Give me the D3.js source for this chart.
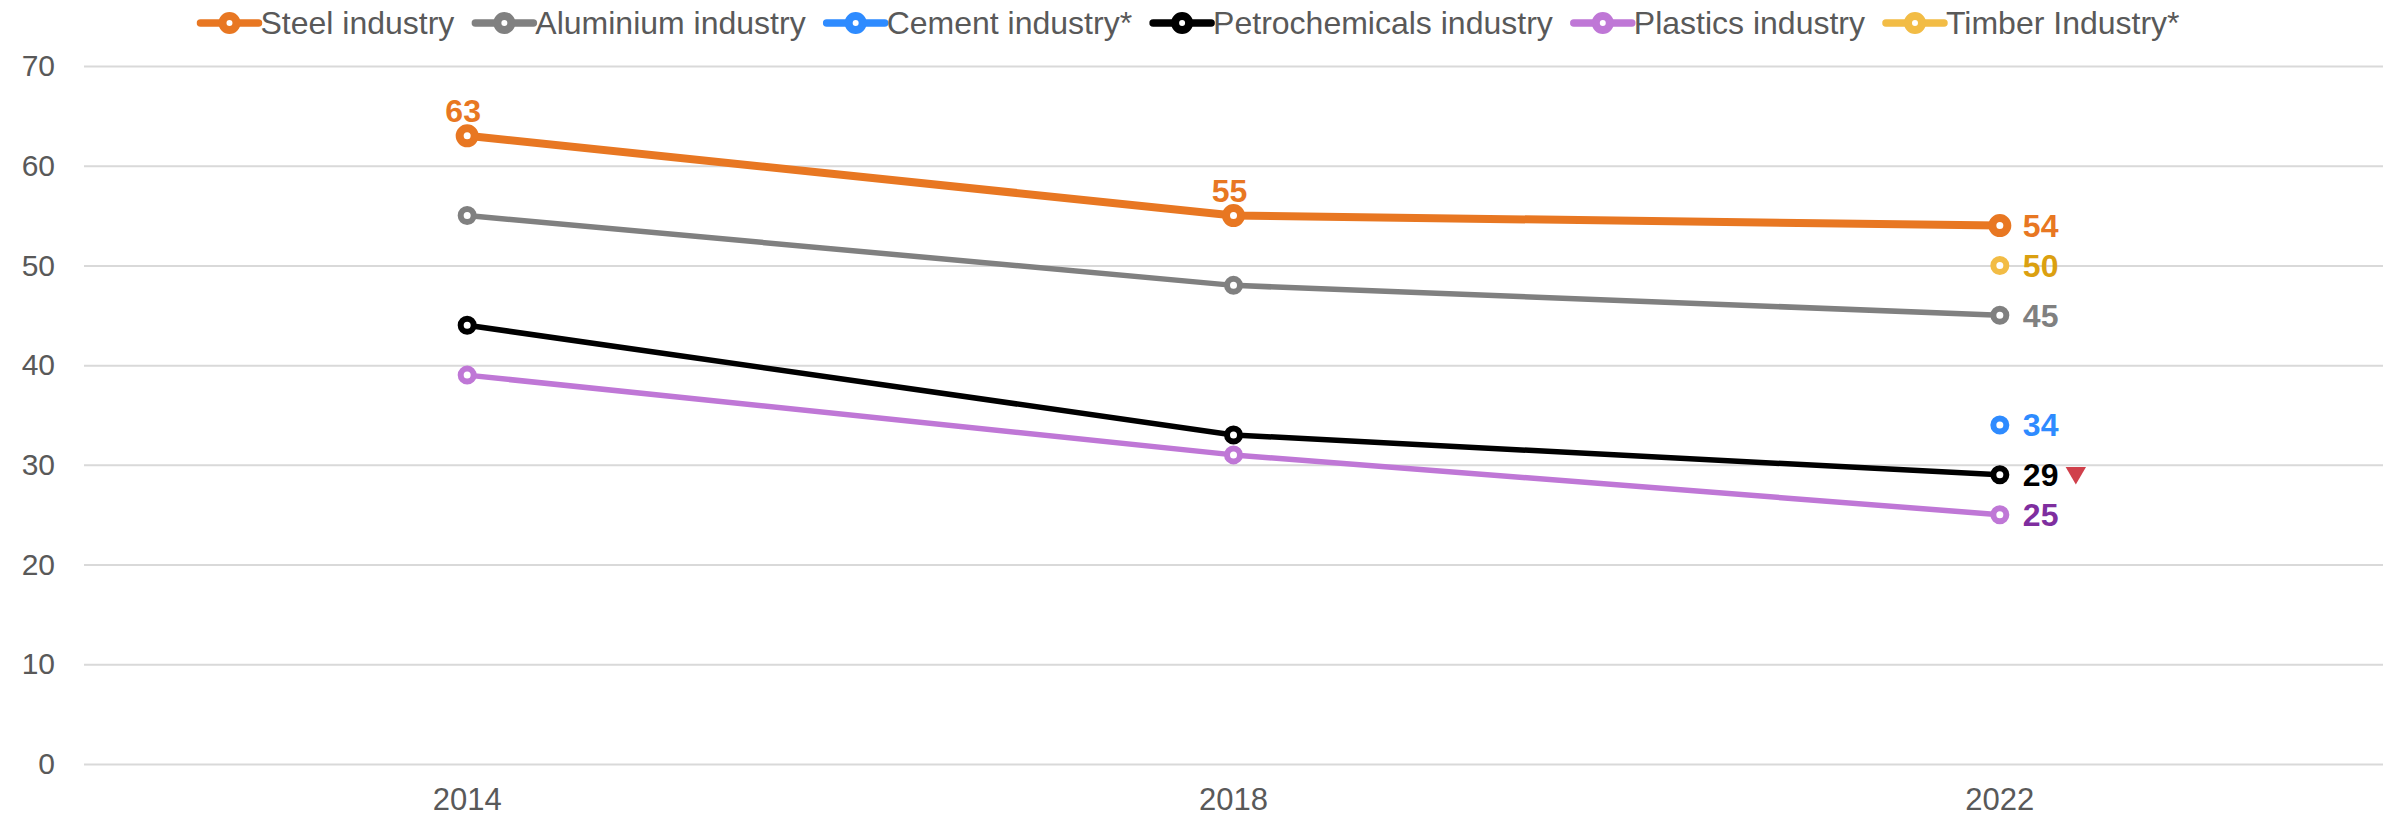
<!DOCTYPE html>
<html>
<head>
<meta charset="utf-8">
<script src="https://cdn.jsdelivr.net/npm/d3@7"></script>
<style>
	body { margin: 0; background: #fff; }
	svg { display: block; font-family: "Liberation Sans", Arial, sans-serif; }
</style>
</head>
<body>
<svg id="chart" width="2392" height="817"></svg>
<script>
// Data
const years = ["2014", "2018", "2022"];
const yTicks = [0, 10, 20, 30, 40, 50, 60, 70];

const seriesNames = ["Steel industry", "Aluminium industry", "Cement industry*", "Petrochemicals industry", "Plastics industry", "Timber Industry*"];
const steel = [63, 55, 54];
const aluminium = [55, 48, 45];
const cement = [null, null, 34];
const petrochemicals = [44, 33, 29];
const plastics = [39, 31, 25];
const timber = [null, null, 50];

const lineColors = ["#E87722", "#808080", "#2E8BFF", "#000000", "#BF77D6", "#F2BC45"];
const labelColors = ["#E87722", "#808080", "#2E8BFF", "#000000", "#7F2E9F", "#DBA010"];

function whenDocumentLoaded(action) {
	if (document.readyState === "loading") {
		document.addEventListener("DOMContentLoaded", action);
	} else {
		action();
	}
}

whenDocumentLoaded(() => {
	const svg = d3.select("#chart");
	const margin = {left: 84, right: 9, top: 66, bottom: 53};
	const width = 2392, height = 817;

	const x = d3.scaleBand()
		.domain(years)
		.range([margin.left, width - margin.right])
		.padding(0);
	const y = d3.scaleLinear()
		.domain([0, 70])
		.range([height - margin.bottom, margin.top]);

	const allSeries = [steel, aluminium, cement, petrochemicals, plastics, timber].map((vals, i) => ({
		name: seriesNames[i],
		color: lineColors[i],
		labelColor: labelColors[i],
		values: vals.map((v, j) => ({year: years[j], value: v}))
	}));

	// gridlines + y labels
	const yAxis = d3.axisLeft(y)
		.tickValues(yTicks)
		.tickSize(-(width - margin.left - margin.right))
		.tickPadding(29);
	const gy = svg.append("g")
		.attr("transform", `translate(${margin.left},0)`)
		.call(yAxis);
	gy.select(".domain").remove();
	gy.selectAll(".tick line").attr("stroke", "#D9D9D9").attr("stroke-width", 2);
	gy.selectAll(".tick text")
		.attr("fill", "#595959")
		.attr("font-size", 30)
		.attr("font-family", "Liberation Sans, Arial, sans-serif");

	// x labels
	const xAxis = d3.axisBottom(x).tickSize(0).tickPadding(24);
	const gx = svg.append("g")
		.attr("transform", `translate(0,${height - margin.bottom})`)
		.call(xAxis);
	gx.select(".domain").remove();
	gx.selectAll(".tick text")
		.attr("fill", "#595959")
		.attr("font-size", 31)
		.attr("font-family", "Liberation Sans, Arial, sans-serif");

	const cx = d => x(d.year) + x.bandwidth() / 2;

	const line = d3.line()
		.defined(d => d.value !== null)
		.x(cx)
		.y(d => y(d.value));

	// lines, drawn back to front so steel sits on top
	const order = [5, 2, 4, 3, 1, 0];
	order.forEach(i => {
		const s = allSeries[i];
		const big = i === 0;
		svg.append("path")
			.datum(s.values)
			.attr("fill", "none")
			.attr("stroke", s.color)
			.attr("stroke-width", big ? 8 : 5.5)
			.attr("stroke-linejoin", "round")
			.attr("d", line);
		svg.append("g").selectAll("circle")
			.data(s.values.filter(d => d.value !== null))
			.join("circle")
			.attr("cx", cx)
			.attr("cy", d => y(d.value))
			.attr("r", big ? 7.5 : 6.5)
			.attr("fill", "#fff")
			.attr("stroke", s.color)
			.attr("stroke-width", big ? 8 : 6);
	});

	// data labels at 2022
	allSeries.forEach(s => {
		const last = s.values[2];
		svg.append("text")
			.attr("x", cx(last) + 23)
			.attr("y", y(last.value))
			.attr("dy", "0.36em")
			.attr("fill", s.labelColor)
			.attr("font-size", 32)
			.attr("font-weight", "bold")
			.text(last.value);
	});

	// steel labels above the first two points
	svg.append("g").selectAll("text")
		.data(allSeries[0].values.slice(0, 2))
		.join("text")
		.attr("x", d => cx(d) - 4)
		.attr("y", d => y(d.value) - 14)
		.attr("text-anchor", "middle")
		.attr("fill", labelColors[0])
		.attr("font-size", 32)
		.attr("font-weight", "bold")
		.text(d => d.value);

	// red down-triangle next to petrochemicals 29
	const pLast = allSeries[3].values[2];
	svg.append("path")
		.attr("d", d3.symbol(d3.symbolTriangle, 180)())
		.attr("transform", `translate(${cx(pLast) + 76},${y(pLast.value) - 2}) rotate(180)`)
		.attr("fill", "#D0404B");

	// legend
	const legend = svg.append("g").attr("class", "legend");
	let lx = 0;
	allSeries.forEach(s => {
		const item = legend.append("g").attr("transform", `translate(${lx},0)`);
		item.append("line")
			.attr("x1", 0).attr("x2", 58)
			.attr("y1", 0).attr("y2", 0)
			.attr("stroke", s.color)
			.attr("stroke-width", 7.5)
			.attr("stroke-linecap", "round");
		item.append("circle")
			.attr("cx", 29).attr("cy", 0)
			.attr("r", 7)
			.attr("fill", "#fff")
			.attr("stroke", s.color)
			.attr("stroke-width", 8);
		const t = item.append("text")
			.attr("x", 60)
			.attr("dy", "0.35em")
			.attr("fill", "#595959")
			.attr("font-size", 32)
			.text(s.name);
		lx += 60 + t.node().getComputedTextLength() + 21;
	});
	const legendWidth = lx - 21;
	legend.attr("transform", `translate(${1190 - legendWidth / 2},23)`);
});
</script>
</body>
</html>
